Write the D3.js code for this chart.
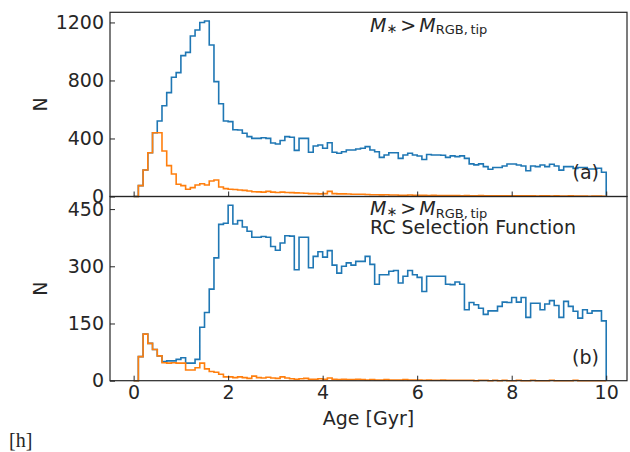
<!DOCTYPE html>
<html>
<head>
<meta charset="utf-8">
<script src="https://cdn.jsdelivr.net/npm/d3@7"></script>
<style>
  body { margin: 0; background: #fff; }
  svg { font-family: "DejaVu Sans", sans-serif; }
  .axis line { stroke: #262626; stroke-width: 1; }
  .axis text { fill: #262626; font-size: 19px; font-family: "DejaVu Sans", sans-serif; }
  .label { fill: #262626; font-size: 19px; }
</style>
</head>
<body>
<svg id="chart" width="630" height="452"></svg>
<script>
// histogram bins are 0.1 Gyr wide, starting at 0
var binWidth = 0.1;

// panel (a): all stars above the RGB tip mass
var allTop = [
  0, 75, 183, 302, 440, 521, 626, 716, 822, 854,
  971, 994, 1107, 1148, 1200, 1210, 1045, 792, 640, 521,
  516, 460, 458, 436, 413, 401, 401, 405, 401, 369,
  362, 386, 413, 408, 318, 401, 401, 305, 348, 355,
  333, 371, 305, 298, 309, 321, 321, 328, 333, 344,
  321, 309, 270, 286, 302, 302, 263, 286, 298, 286,
  279, 255, 290, 286, 286, 284, 270, 280, 275, 280,
  263, 225, 218, 225, 206, 188, 200, 200, 210, 224,
  224, 217, 210, 178, 210, 206, 217, 206, 222, 210,
  182, 206, 206, 194, 200, 200, 190, 190, 195, 167
];
var youngTop = [
  0, 75, 183, 302, 440, 440, 314, 213, 155, 84,
  75, 50, 61, 79, 88, 79, 107, 114, 65, 54,
  50, 48, 45, 42, 38, 33, 32, 30, 35, 30,
  28, 30, 28, 27, 25, 24, 22, 20, 20, 18,
  20, 35, 20, 18, 18, 17, 16, 15, 15, 14,
  12, 12, 11, 12, 10, 10, 9, 9, 10, 8,
  8, 8, 7, 8, 7, 6, 7, 6, 6, 5,
  6, 5, 5, 6, 5, 4, 5, 5, 4, 4,
  5, 4, 4, 5, 4, 3, 4, 4, 3, 4,
  3, 3, 4, 3, 3, 3, 2, 3, 3, 2
];

// panel (b): with the RC selection function applied
var allRC = [
  0, 63, 122, 98, 82, 65, 50, 52, 52, 56,
  60, 46, 46, 56, 140, 179, 240, 322, 410, 413,
  460, 411, 420, 403, 392, 376, 376, 378, 376, 352,
  342, 361, 380, 379, 291, 376, 376, 296, 326, 338,
  324, 341, 303, 282, 300, 309, 303, 313, 313, 326,
  305, 253, 278, 278, 287, 289, 256, 274, 289, 278,
  271, 234, 274, 274, 274, 274, 253, 252, 259, 253,
  186, 205, 199, 190, 174, 183, 183, 195, 206, 205,
  218, 206, 218, 166, 203, 203, 186, 201, 210, 197,
  166, 208, 195, 182, 164, 186, 177, 183, 183, 157
];
var youngRC = [
  0, 63, 122, 98, 82, 65, 47, 46, 47, 46,
  46, 28, 28, 34, 46, 31, 24, 22, 17, 10,
  10, 8, 10, 8, 6, 12, 8, 7, 9, 7,
  6, 10, 7, 5, 4, 5, 6, 4, 4, 5,
  4, 7, 4, 3, 4, 3, 3, 4, 3, 2,
  3, 2, 2, 3, 2, 2, 2, 3, 2, 2,
  2, 1, 2, 1, 1, 2, 1, 1, 1, 1,
  1, 1, 0, 1, 1, 0, 1, 0, 1, 0,
  0, 1, 0, 0, 1, 0, 0, 0, 1, 0,
  0, 0, 0, 1, 0, 0, 0, 0, 0, 0
];

var xTicks = [0, 2, 4, 6, 8, 10];
var yTicksTop = [0, 400, 800, 1200];
var yTicksRC = [0, 150, 300, 450];

var blue = "#1f77b4", orange = "#ff7f0e", ink = "#262626";

var svg = d3.select("#chart");

var left = 110, right = 627;
var x = d3.scaleLinear().domain([-0.5, 10.44]).range([left, right]);

var panels = [
  { top: 12.3, bottom: 196.5, max: 1270, ticks: yTicksTop, series: [allTop, youngTop], labels: false },
  { top: 196.5, bottom: 380.7, max: 483, ticks: yTicksRC, series: [allRC, youngRC], labels: true }
];

// turn bin counts into a step outline like matplotlib's histtype="step"
function outline(counts) {
  var pts = [[0, 0]];
  counts.forEach(function (c, i) { pts.push([i * binWidth, c]); });
  var end = counts.length * binWidth;
  pts.push([end, counts[counts.length - 1]]);
  pts.push([end, 0]);
  return pts;
}

panels.forEach(function (p) {
  var y = d3.scaleLinear().domain([0, p.max]).range([p.bottom, p.top]);
  var line = d3.line()
    .x(function (d) { return x(d[0]); })
    .y(function (d) { return y(d[1]); })
    .curve(d3.curveStepAfter);

  var g = svg.append("g");

  g.selectAll("path.hist")
    .data(p.series)
    .enter().append("path")
      .attr("class", "hist")
      .attr("d", function (d) { return line(outline(d)); })
      .attr("fill", "none")
      .attr("stroke", function (d, i) { return i === 0 ? blue : orange; })
      .attr("stroke-width", 1.6)
      .attr("stroke-linejoin", "miter");

  var yAxis = d3.axisLeft(y).tickValues(p.ticks).tickFormat(d3.format("d"))
    .tickSizeInner(-5).tickSizeOuter(0).tickPadding(6);
  g.append("g").attr("class", "axis")
    .attr("transform", "translate(" + left + ",0)")
    .call(yAxis)
    .call(function (a) { a.select(".domain").remove(); });

  var xAxis = d3.axisBottom(x).tickValues(xTicks).tickFormat(d3.format("d"))
    .tickSizeInner(-5).tickSizeOuter(0).tickPadding(5);
  if (!p.labels) xAxis.tickFormat("");
  g.append("g").attr("class", "axis")
    .attr("transform", "translate(0," + p.bottom + ")")
    .call(xAxis)
    .call(function (a) { a.select(".domain").remove(); });

  g.append("rect")
    .attr("x", left).attr("y", p.top)
    .attr("width", right - left).attr("height", p.bottom - p.top)
    .attr("fill", "none").attr("stroke", ink).attr("stroke-width", 1.2);

  g.append("text").attr("class", "label")
    .attr("transform", "translate(47," + (p.top + p.bottom) / 2 + ") rotate(-90)")
    .attr("text-anchor", "middle")
    .text("N");
});

// mass condition annotations
function massLabel(yBase) {
  var t = svg.append("text").attr("class", "label").attr("x", 370).attr("y", yBase);
  t.append("tspan").attr("font-style", "italic").text("M");
  t.append("tspan").attr("font-size", "13px").attr("dy", 1).text("\u2217");
  t.append("tspan").attr("dy", -1).attr("dx", 3).text(">");
  t.append("tspan").attr("dx", 3).attr("font-style", "italic").text("M");
  t.append("tspan").attr("font-size", "13px").attr("dy", 2.5).text("RGB,\u2009tip");
}
massLabel(31.5);
massLabel(215);

svg.append("text").attr("class", "label").attr("x", 370).attr("y", 234)
  .text("RC Selection Function");

svg.append("text").attr("class", "label").attr("x", 599).attr("y", 178.5)
  .attr("text-anchor", "end").text("(a)");
svg.append("text").attr("class", "label").attr("x", 599).attr("y", 363.5)
  .attr("text-anchor", "end").text("(b)");

svg.append("text").attr("class", "label").attr("x", (left + right) / 2).attr("y", 425)
  .attr("text-anchor", "middle").text("Age [Gyr]");

svg.append("text").attr("x", 9).attr("y", 447)
  .attr("font-family", "'Liberation Serif', 'DejaVu Serif', serif")
  .attr("font-size", "20px").attr("fill", ink).text("[h]");
</script>
</body>
</html>
